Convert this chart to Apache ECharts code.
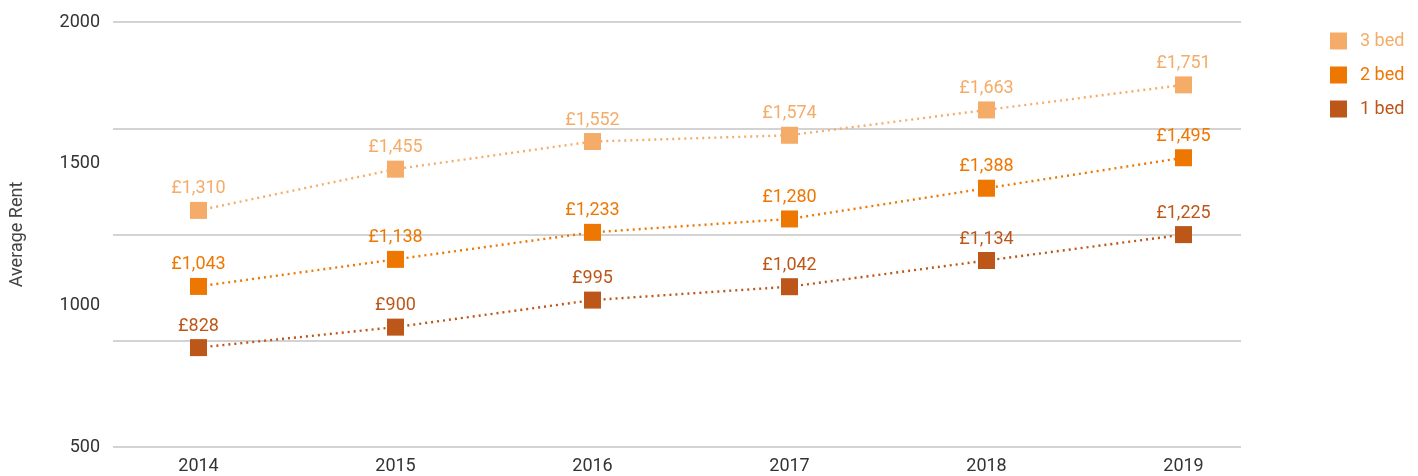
<!DOCTYPE html>
<html>
<head>
<meta charset="utf-8">
<script src="https://cdn.jsdelivr.net/npm/echarts@6/dist/echarts.min.js"></script>
<style>html,body{margin:0;padding:0;background:#fff}#c{width:1418px;height:476px}</style>
</head>
<body>
<div id="c"></div>
<script>
const categories = ['2014', '2015', '2016', '2017', '2018', '2019'];
const bed3 = [1310, 1455, 1552, 1574, 1663, 1751];
const bed2 = [1043, 1138, 1233, 1280, 1388, 1495];
const bed1 = [828, 900, 995, 1042, 1134, 1225];
const yTickLabels = [500, 1000, 1500, 2000];
const seriesNames = ['3 bed', '2 bed', '1 bed'];
const colors = ['#F5AC69', '#EE7702', '#BD5619'];

const FONT = "Roboto, 'Liberation Sans', sans-serif";
const FS = 18;
const chart = echarts.init(document.getElementById('c'));

function fmt(v) {
  return '£' + v.toLocaleString('en-GB');
}

function mk(name, data, color) {
  return {
    name: name,
    type: 'line',
    xAxisIndex: 1,
    yAxisIndex: 2,
    data: data,
    symbol: 'rect',
    symbolSize: 17,
    itemStyle: { color: color },
    lineStyle: { color: color, width: 2.4, type: [2, 4], cap: 'butt' },
    label: {
      show: true,
      position: 'top',
      distance: 4,
      color: color,
      fontFamily: FONT,
      fontSize: FS,
      formatter: p => fmt(p.value)
    },
    z: 3
  };
}

chart.setOption({
  animation: false,
  textStyle: { fontFamily: FONT },
  legend: {
    orient: 'vertical',
    left: 1330,
    top: 32,
    padding: 0,
    itemWidth: 17,
    itemHeight: 17,
    itemGap: 16,
    icon: 'rect',
    data: seriesNames.map((n, i) => ({ name: n, textStyle: { color: colors[i] } })),
    textStyle: { fontFamily: FONT, fontSize: FS, padding: [0, 0, 0, 8] },
    selectedMode: false
  },
  grid: [
    { left: 112, right: 177, top: 22, bottom: 29 },
    { left: 100, right: 136, top: 14, bottom: 35 }
  ],
  xAxis: [
    { type: 'value', gridIndex: 0, show: false, min: 0, max: 1 },
    {
      type: 'category', gridIndex: 1, data: categories,
      axisLine: { show: false }, axisTick: { show: false },
      axisLabel: { color: '#333', fontSize: FS, margin: 16, fontFamily: FONT }
    }
  ],
  yAxis: [
    {
      type: 'value', gridIndex: 0, min: 500, max: 2000, interval: 375,
      axisLine: { show: false }, axisTick: { show: false }, axisLabel: { show: false },
      splitLine: { show: true, lineStyle: { color: '#C4C4C4', width: 1.5 } }
    },
    {
      type: 'value', gridIndex: 0, position: 'left', min: 500, max: 2000, interval: 500,
      name: 'Average Rent', nameLocation: 'middle', nameGap: 87, nameRotate: 90,
      nameTextStyle: { color: '#444', fontSize: FS, fontFamily: FONT },
      axisLine: { show: false }, axisTick: { show: false },
      splitLine: { show: false },
      axisLabel: {
        color: '#333', fontSize: FS, margin: 13, fontFamily: FONT,
        formatter: v => (yTickLabels.indexOf(v) >= 0 ? String(v) : '')
      }
    },
    {
      type: 'value', gridIndex: 1, min: 500, max: 2000, show: false
    }
  ],
  series: [
    mk(seriesNames[0], bed3, colors[0]),
    mk(seriesNames[1], bed2, colors[1]),
    mk(seriesNames[2], bed1, colors[2])
  ]
});
</script>
</body>
</html>
